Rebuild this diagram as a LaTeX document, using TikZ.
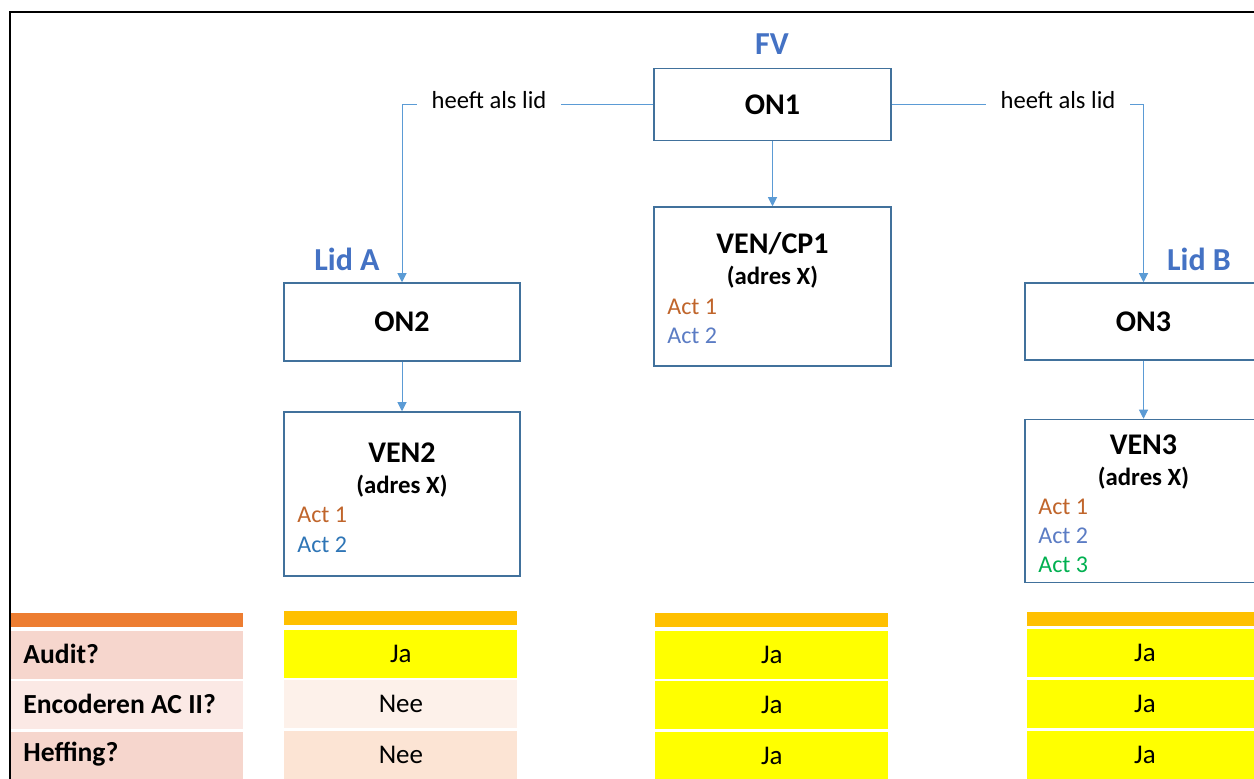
\documentclass[tikz,border=0pt]{standalone}
\usepackage{fontspec}
\setmainfont{Carlito}
\usetikzlibrary{arrows.meta,positioning}

\definecolor{boxblue}{HTML}{41719C}
\definecolor{lineblue}{HTML}{5B9BD5}
\definecolor{lblblue}{HTML}{4472C4}
\definecolor{actone}{HTML}{C0652B}
\definecolor{acttwo}{HTML}{5B7CC4}
\definecolor{acttwob}{HTML}{2E75B6}
\definecolor{actthree}{HTML}{00B050}
\definecolor{hdrorange}{HTML}{ED7D31}
\definecolor{hdrgold}{HTML}{FFC000}
\definecolor{cellyellow}{HTML}{FFFF00}
\definecolor{cellpink}{HTML}{F6D6CD}
\definecolor{cellpinklt}{HTML}{FBE9E5}
\definecolor{cellnee}{HTML}{FDF1EA}
\definecolor{cellneeb}{HTML}{FCE4D4}

\tikzset{
    box/.style={draw=boxblue,line width=0.75pt,fill=white,inner sep=0pt,
        minimum width=118.5pt},
    conn/.style={draw=lineblue,line width=0.5pt},
    arr/.style={conn,-{Triangle[width=4.5pt,length=4.5pt]}},
    roletxt/.style={text=lblblue,font=\fontsize{16}{19}\selectfont\bfseries},
    nametxt/.style={font=\fontsize{15}{18}\selectfont\bfseries},
    adrestxt/.style={font=\fontsize{12.4}{15}\selectfont\bfseries},
    acttxt/.style={anchor=west,inner sep=0pt,font=\fontsize{12}{14}\selectfont},
    reltxt/.style={fill=white,inner xsep=7.5pt,inner ysep=1pt,
        font=\fontsize{12.3}{14}\selectfont},
    hdr/.style={inner sep=0pt,minimum height=7pt,anchor=north west},
    cell/.style={inner sep=0pt,minimum height=24pt,anchor=north west,
        font=\fontsize{13.5}{16}\selectfont},
    rowtxt/.style={anchor=west,inner sep=0pt,font=\fontsize{13.8}{16}\selectfont\bfseries},
}

\begin{document}
\begin{tikzpicture}[x=0.5pt,y=-0.5pt]

    \clip (0,0) rectangle (1254,779);
    \fill [white] (0,0) rectangle (1254,779);

    % outer frame (cut off at right and bottom)
    \draw [line width=1pt] (10,790) -- (10,12) -- (1270,12);

    % FV
    \node [roletxt] (fv) at (772,44) {FV};
    \node [box,minimum height=36pt] (on1) at (772.5,104.5) {};
    \node [nametxt] at (on1) {ON1};

    \node [box,minimum height=79.5pt] (ven1) at (772.5,286.5) {};
    \node [nametxt] at (772.5,244) {VEN/CP1};
    \node [adrestxt] at (772.5,277) {(adres X)};
    \node [acttxt,text=actone] at (667,307) {Act 1};
    \node [acttxt,text=acttwo] at (667,336) {Act 2};

    % Lid A
    \node [roletxt] (lida) at (347,259) {Lid A};
    \node [box,minimum height=39pt,minimum width=118pt] (on2) at (402,322) {};
    \node [nametxt] at (on2) {ON2};

    \node [box,minimum height=82pt,minimum width=118pt] (ven2) at (402,494) {};
    \node [nametxt] at (402,453) {VEN2};
    \node [adrestxt] at (402,486) {(adres X)};
    \node [acttxt,text=actone] at (297,515) {Act 1};
    \node [acttxt,text=acttwob] at (297,545) {Act 2};

    % Lid B
    \node [roletxt] (lidb) at (1199,259) {Lid B};
    \node [box,minimum height=38.5pt] (on3) at (1143.5,321.5) {};
    \node [nametxt] at (on3) {ON3};

    \node [box,minimum height=81.5pt] (ven3) at (1143.5,501) {};
    \node [nametxt] at (1143.5,445) {VEN3};
    \node [adrestxt] at (1143.5,478) {(adres X)};
    \node [acttxt,text=actone] at (1038,507) {Act 1};
    \node [acttxt,text=acttwo] at (1038,536) {Act 2};
    \node [acttxt,text=actthree] at (1038,565) {Act 3};

    % connectors
    \draw [arr] (on1.west) -| (on2.north);
    \draw [arr] (on1.east) -| (on3.north);
    \draw [arr] (on1.south) -- (ven1.north);
    \draw [arr] (on2.south) -- (ven2.north);
    \draw [arr] (on3.south) -- (ven3.north);
    \node [reltxt] (rel1) at (489,100) {heeft als lid};
    \node [reltxt] (rel2) at (1058,100) {heeft als lid};

    % table: labels
    \node [hdr,fill=hdrorange,minimum width=116pt] (h0) at (11,613) {};
    \node [cell,fill=cellpink,minimum width=116pt] (l1) at (11,631) {};
    \node [cell,fill=cellpinklt,minimum width=116pt] (l2) at (11,681) {};
    \node [cell,fill=cellpink,minimum width=116pt] (l3) at (11,732) {};
    \node [rowtxt] at (23,654) {Audit?};
    \node [rowtxt] at (23,704) {Encoderen AC II?};
    \node [rowtxt] at (23,754) {Heffing?};

    % table: Lid A
    \node [hdr,fill=hdrgold,minimum width=116.5pt] (h2) at (284,611) {};
    \node [cell,fill=cellyellow,minimum width=116.5pt] (a2) at (284,630) {Ja};
    \node [cell,fill=cellnee,minimum width=116.5pt] (b2) at (284,680) {Nee};
    \node [cell,fill=cellneeb,minimum width=116.5pt] (c2) at (284,731) {Nee};

    % table: FV
    \node [hdr,fill=hdrgold,minimum width=116.5pt] (h3) at (655,613) {};
    \node [cell,fill=cellyellow,minimum width=116.5pt] (a3) at (655,631) {Ja};
    \node [cell,fill=cellyellow,minimum width=116.5pt] (b3) at (655,681) {Ja};
    \node [cell,fill=cellyellow,minimum width=116.5pt] (c3) at (655,732) {Ja};

    % table: Lid B
    \node [hdr,fill=hdrgold,minimum width=117.5pt] (h4) at (1027,612) {};
    \node [cell,fill=cellyellow,minimum width=117.5pt] (a4) at (1027,629) {Ja};
    \node [cell,fill=cellyellow,minimum width=117.5pt] (b4) at (1027,680) {Ja};
    \node [cell,fill=cellyellow,minimum width=117.5pt] (c4) at (1027,731) {Ja};

\end{tikzpicture}
\end{document}
